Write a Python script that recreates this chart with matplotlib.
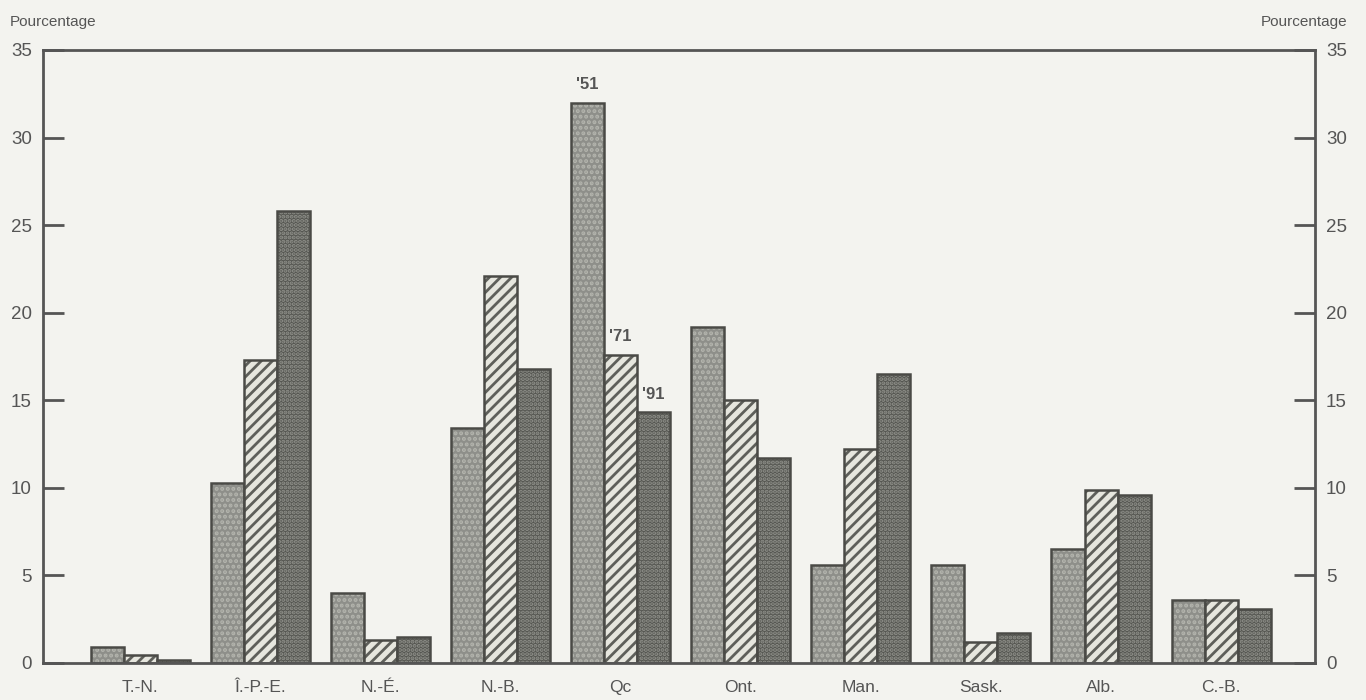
import matplotlib
matplotlib.use('Agg')
import matplotlib.pyplot as plt
import numpy as np

# Data
provinces = ['T.-N.', 'Î.-P.-E.', 'N.-É.', 'N.-B.', 'Qc', 'Ont.', 'Man.', 'Sask.', 'Alb.', 'C.-B.']
years = ["'51", "'71", "'91"]
pct_1951 = [0.9, 10.3, 4.0, 13.4, 32.0, 19.2, 5.6, 5.6, 6.5, 3.6]
pct_1971 = [0.45, 17.3, 1.3, 22.1, 17.6, 15.0, 12.2, 1.2, 9.9, 3.6]
pct_1991 = [0.15, 25.8, 1.5, 16.8, 14.3, 11.7, 16.5, 1.7, 9.6, 3.1]
yticks = [0, 5, 10, 15, 20, 25, 30, 35]

bg = '#f3f3ef'
ink = '#555555'
plt.rcParams['font.family'] = ['Liberation Sans', 'DejaVu Sans']
plt.rcParams['hatch.linewidth'] = 2.0

fig = plt.figure(figsize=(13.66, 7), dpi=100, facecolor=bg)
ax = fig.add_axes([0.0315, 0.053, 0.931, 0.8756], facecolor=bg)

x = np.arange(len(provinces))
w = 0.275
series = [
    (pct_1951, '#8e8f8a', '#b3b4ad', '...'),
    (pct_1971, '#e6e6de', '#5e5f5a', '///'),
    (pct_1991, '#555651', '#8f908a', '....'),
]
for i, (vals, face, hcol, hatch) in enumerate(series):
    pos = x + (i - 1) * w
    ax.bar(pos, vals, w, color=face, edgecolor=hcol, hatch=hatch, linewidth=0)
    ax.bar(pos, vals, w, fill=False, edgecolor='#4a4a46', linewidth=1.8)

# year labels above Qc bars
qc = provinces.index('Qc')
for i, vals in enumerate([pct_1951, pct_1971, pct_1991]):
    ax.text(qc + (i - 1) * w, vals[qc] + 0.6, years[i], ha='center', va='bottom',
            fontsize=12, fontweight='bold', color=ink)

ax.set_xlim(-0.81, 9.78)
ax.set_ylim(0, 35)
ax.set_xticks(x)
ax.set_xticklabels(provinces, fontsize=12.5, color=ink)
ax.set_yticks(yticks)
ax.set_yticklabels([str(t) for t in yticks], fontsize=13.5, color=ink)
ax.tick_params(axis='x', length=0, pad=12)
ax.tick_params(axis='y', direction='in', length=15, width=2, color=ink,
               pad=8, labelright=True, right=True)
for s in ax.spines.values():
    s.set_color(ink)
    s.set_linewidth(2)

fig.text(0.007, 0.968, 'Pourcentage', fontsize=11, color=ink, ha='left', va='center')
fig.text(0.986, 0.968, 'Pourcentage', fontsize=11, color=ink, ha='right', va='center')

fig.savefig('out.png', dpi=100, facecolor=bg)
